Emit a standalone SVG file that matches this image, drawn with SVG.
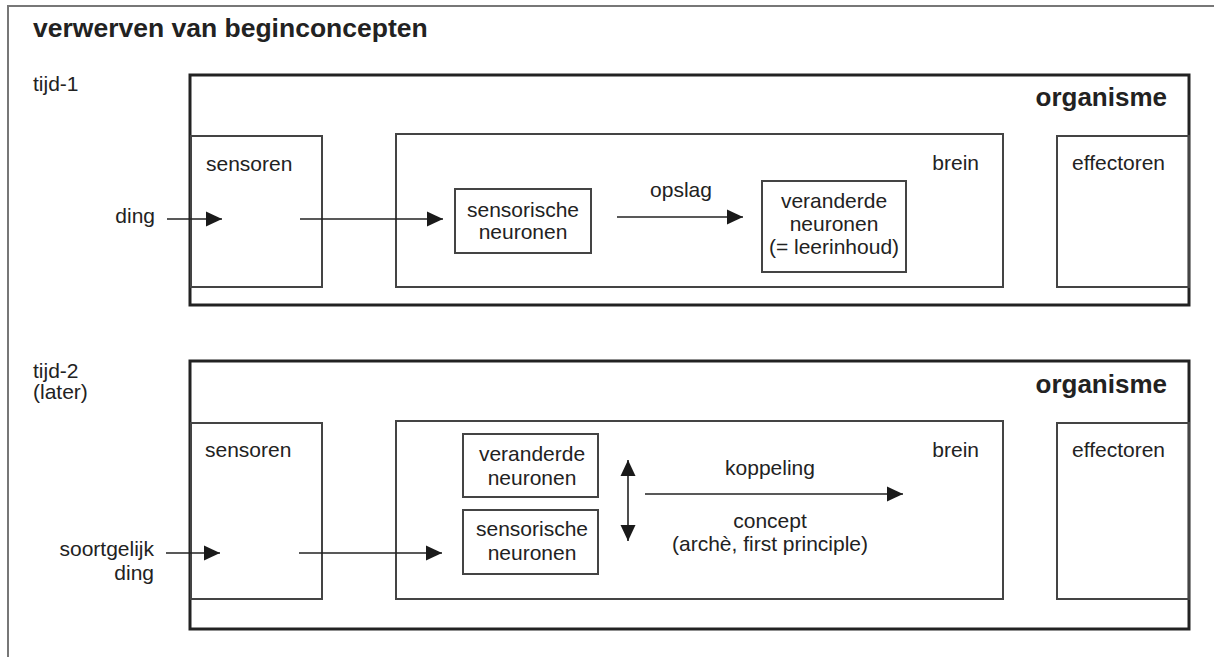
<svg xmlns="http://www.w3.org/2000/svg" width="1214" height="657" viewBox="0 0 1214 657">
  <style>
    text { font-family: "Liberation Sans", Arial, sans-serif; fill: #222; }
    .lbl { font-size: 21px; }
    .title { font-size: 26.5px; font-weight: bold; }
    .org { font-size: 26px; font-weight: bold; text-anchor: end; }
    .mid { text-anchor: middle; }
    .end { text-anchor: end; }
    .frame { fill: none; stroke: #777; stroke-width: 2; }
    .organism { fill: none; stroke: #222; stroke-width: 3; }
    .box { fill: none; stroke: #444; stroke-width: 2; }
    .arrow { fill: none; stroke: #222; stroke-width: 1.6; }
  </style>
  <defs>
    <marker id="head" markerUnits="userSpaceOnUse" markerWidth="16" markerHeight="16" viewBox="0 0 16 16" refX="16" refY="8" orient="auto">
      <path d="M0,0.5 L16,8 L0,15.5 Z" fill="#1a1a1a"/>
    </marker>
    <marker id="headStart" markerUnits="userSpaceOnUse" markerWidth="16" markerHeight="16" viewBox="0 0 16 16" refX="16" refY="8" orient="auto-start-reverse">
      <path d="M0,0.5 L16,8 L0,15.5 Z" fill="#1a1a1a"/>
    </marker>
  </defs>

  <rect width="1214" height="657" fill="#fff"/>

  <!-- page frame (only top and left edges fall inside the page) -->
  <path class="frame" d="M8,660 V6 H1216"/>

  <text class="title" x="33" y="37">verwerven van beginconcepten</text>

  <!-- ===== moment 1 ===== -->
  <g id="tijd1">
    <text class="lbl" x="33" y="91">tijd-1</text>
  </g>
  <g id="organisme1">
    <rect class="organism" x="190" y="75" width="999" height="230"/>
    <text class="org" x="1167" y="106">organisme</text>
  </g>
  <g id="sensoren1">
    <rect class="box" x="191" y="136" width="131" height="151"/>
    <text class="lbl" x="206" y="171">sensoren</text>
  </g>
  <g id="brein1">
    <rect class="box" x="396" y="134" width="607" height="153"/>
    <text class="lbl end" x="979" y="170">brein</text>
  </g>
  <g id="effectoren1">
    <rect class="box" x="1057" y="136" width="132" height="151"/>
    <text class="lbl" x="1072" y="170">effectoren</text>
  </g>
  <g id="sensorische1">
    <rect class="box" x="455" y="189" width="136" height="64"/>
    <text class="lbl mid" x="523" y="217">sensorische</text>
    <text class="lbl mid" x="523" y="239">neuronen</text>
  </g>
  <g id="veranderde1">
    <rect class="box" x="762" y="181" width="144" height="91"/>
    <text class="lbl mid" x="834" y="208">veranderde</text>
    <text class="lbl mid" x="834" y="231">neuronen</text>
    <text class="lbl mid" x="834" y="254">(= leerinhoud)</text>
  </g>
  <g id="ding1">
    <text class="lbl end" x="155" y="223">ding</text>
  </g>

  <!-- ===== moment 2 ===== -->
  <g id="tijd2">
    <text class="lbl" x="33" y="378">tijd-2</text>
    <text class="lbl" x="33" y="399">(later)</text>
  </g>
  <g id="organisme2">
    <rect class="organism" x="190" y="361" width="999" height="268"/>
    <text class="org" x="1167" y="393">organisme</text>
  </g>
  <g id="sensoren2">
    <rect class="box" x="191" y="423" width="131" height="176"/>
    <text class="lbl" x="205" y="457">sensoren</text>
  </g>
  <g id="brein2">
    <rect class="box" x="396" y="421" width="607" height="178"/>
    <text class="lbl end" x="979" y="457">brein</text>
  </g>
  <g id="effectoren2">
    <rect class="box" x="1057" y="423" width="132" height="176"/>
    <text class="lbl" x="1072" y="457">effectoren</text>
  </g>
  <g id="veranderde2">
    <rect class="box" x="463" y="434" width="135" height="63"/>
    <text class="lbl mid" x="532" y="461">veranderde</text>
    <text class="lbl mid" x="532" y="485">neuronen</text>
  </g>
  <g id="sensorische2">
    <rect class="box" x="463" y="510" width="135" height="64"/>
    <text class="lbl mid" x="532" y="536">sensorische</text>
    <text class="lbl mid" x="532" y="560">neuronen</text>
  </g>
  <g id="ding2">
    <text class="lbl end" x="154" y="556">soortgelijk</text>
    <text class="lbl end" x="154" y="580">ding</text>
  </g>
  <g id="koppeling-labels">
    <text class="lbl mid" x="770" y="475">koppeling</text>
    <text class="lbl mid" x="770" y="528">concept</text>
    <text class="lbl mid" x="770" y="551">(archè, first principle)</text>
  </g>
  <g id="opslag-label">
    <text class="lbl mid" x="681" y="197">opslag</text>
  </g>

  <!-- connectors -->
  <g id="connectors">
    <line class="arrow" x1="167" y1="219" x2="222" y2="219" marker-end="url(#head)"/>
    <line class="arrow" x1="300" y1="219" x2="443" y2="219" marker-end="url(#head)"/>
    <line class="arrow" x1="617" y1="217" x2="743" y2="217" marker-end="url(#head)"/>

    <line class="arrow" x1="166" y1="553" x2="220" y2="553" marker-end="url(#head)"/>
    <line class="arrow" x1="299" y1="553" x2="442" y2="553" marker-end="url(#head)"/>
    <line class="arrow" x1="628" y1="460" x2="628" y2="541" marker-start="url(#headStart)" marker-end="url(#head)"/>
    <line class="arrow" x1="645" y1="494" x2="903" y2="494" marker-end="url(#head)"/>
  </g>
</svg>
